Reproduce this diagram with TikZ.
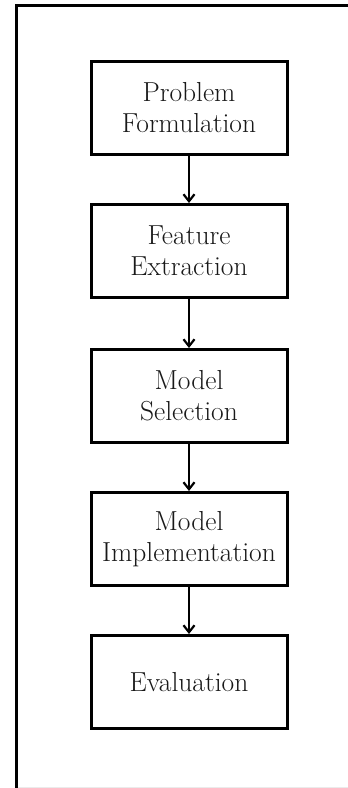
\documentclass[tikz,border=0pt]{standalone}
\usetikzlibrary{arrows.meta}
\tikzset{
  stagebox/.style={draw=black, line width=3pt, fill=white, minimum width=196pt,
    minimum height=93pt, inner sep=2pt, align=center,
    font=\fontsize{27.5}{31}\selectfont, text=black!90},
  flowarrow/.style={line width=2.2pt, -{Straight Barb[length=7pt,width=11pt,line width=2.2pt]}},
  frameline/.style={line width=3pt, line cap=rect}
}
\begin{document}
\begin{tikzpicture}[x=1pt,y=1pt]
\useasboundingbox (0,0) rectangle (348,-788);
% outer frame (open to the right)
\draw[black!8, line width=1pt] (16,-787) -- (348,-787);
\draw[frameline] (16,-787) -- (16,-5) -- (350,-5);
% process stages
\node[stagebox] (s1) at (189,-108) {Problem\\Formulation};
\node[stagebox] (s2) at (189,-251) {Feature\\Extraction};
\node[stagebox] (s3) at (189,-396) {Model\\Selection};
\node[stagebox] (s4) at (189,-539) {Model\\Implementation};
\node[stagebox] (s5) at (189,-682) {Evaluation};
% connectors
\draw[flowarrow] (s1) -- (s2);
\draw[flowarrow] (s2) -- (s3);
\draw[flowarrow] (s3) -- (s4);
\draw[flowarrow] (s4) -- (s5);
\end{tikzpicture}
\end{document}
